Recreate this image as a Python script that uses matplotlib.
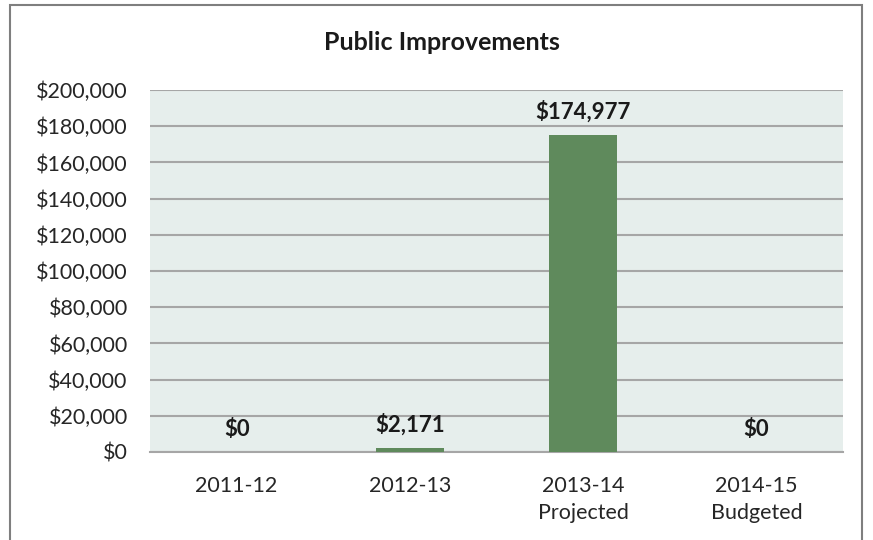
import matplotlib.pyplot as plt
from matplotlib.patches import Rectangle
from matplotlib.ticker import FuncFormatter

categories = ["2011-12", "2012-13", "2013-14\nProjected", "2014-15\nBudgeted"]
values = [0, 2171, 174977, 0]
y_ticks = [0, 20000, 40000, 60000, 80000, 100000, 120000, 140000, 160000, 180000, 200000]

plt.rcParams['font.family'] = ['Lato', 'DejaVu Sans']

fig = plt.figure(figsize=(8.73, 5.4), dpi=100)
fig.patch.set_facecolor("white")

# outer chart border
fig.patches.append(Rectangle((10 / 873, -0.05), 852 / 873, 1 - 5 / 540 + 0.05,
                             transform=fig.transFigure, fill=False,
                             edgecolor="#7f7f7f", linewidth=1.5))

ax = fig.add_axes([150 / 873, 1 - 452 / 540, 693 / 873, 362 / 540])
ax.set_facecolor("#e6eeec")

x = range(len(categories))
ax.bar(x, values, width=0.39, color="#5f8a5c", zorder=3)

ax.set_ylim(0, 200000)
ax.set_xlim(-0.5, len(categories) - 0.5)
ax.set_yticks(y_ticks)
ax.yaxis.set_major_formatter(FuncFormatter(lambda v, p: f"${v:,.0f}"))
ax.set_xticks(list(x))
ax.set_xticklabels(categories, linespacing=1.45)
ax.tick_params(axis="both", length=0, labelsize=15.5, colors="#262626")
ax.tick_params(axis="x", pad=17)
ax.tick_params(axis="y", pad=16)
ax.grid(axis="y", color="#a6a6a6", linewidth=1.5, zorder=1)

for s in ["left", "right", "top"]:
    ax.spines[s].set_visible(False)
ax.spines["bottom"].set_color("#a6a6a6")
ax.spines["bottom"].set_linewidth(1.5)

for xi, v in zip(x, values):
    ax.annotate(f"${v:,.0f}", (xi, v), xytext=(0, 9), textcoords="offset points",
                ha="center", va="bottom", fontsize=16, fontweight="bold",
                color="#1a1a1a")

fig.text(442 / 873, 1 - 43 / 540, "Public Improvements", ha="center", va="center",
         fontsize=18, fontweight="bold", color="#1a1a1a")

fig.savefig("out.png", dpi=100)
